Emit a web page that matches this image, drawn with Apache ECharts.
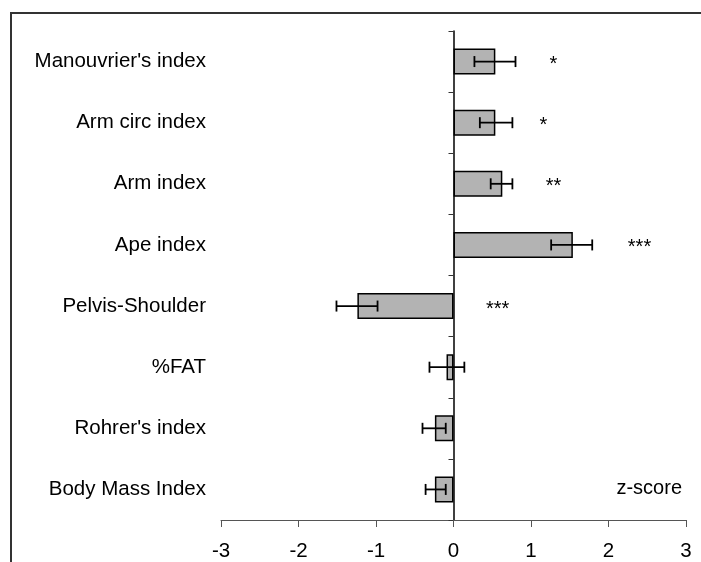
<!DOCTYPE html>
<html>
<head>
<meta charset="utf-8">
<script src="https://cdn.jsdelivr.net/npm/echarts@6/dist/echarts.min.js"></script>
<style>
html,body{margin:0;padding:0;background:#fff;}
#chart{width:701px;height:562px;}
</style>
</head>
<body>
<div id="chart"></div>
<script>
// Data (top to bottom)
const categories = ["Manouvrier's index", "Arm circ index", "Arm index", "Ape index",
  "Pelvis-Shoulder", "%FAT", "Rohrer's index", "Body Mass Index"];
const means   = [0.54, 0.54, 0.63, 1.54, -1.24, -0.09, -0.24, -0.24];
const errLow  = [0.27, 0.34, 0.48, 1.26, -1.51, -0.31, -0.40, -0.36];
const errHigh = [0.80, 0.76, 0.76, 1.79, -0.98, 0.14, -0.10, -0.10];
const starText = ["*", "*", "**", "***", "***", "", "", ""];
const starX    = [1.29, 1.16, 1.29, 2.40, 0.57, null, null, null];
const xTicks = [-3, -2, -1, 0, 1, 2, 3];

const FONT = "'Liberation Sans', Arial, sans-serif";

const errData = categories.map((c, i) => [i, errLow[i], errHigh[i]]);
const starData = categories.map((c, i) => [starX[i], i, starText[i]]).filter(d => d[0] !== null);

const chart = echarts.init(document.getElementById('chart'), null, {renderer: 'canvas'});
chart.setOption({
  animation: false,
  backgroundColor: '#fff',
  textStyle: {fontFamily: FONT},
  grid: {left: 221, right: 15, top: 31, bottom: 42, containLabel: false},
  xAxis: {
    type: 'value',
    min: xTicks[0], max: xTicks[xTicks.length - 1], interval: 1,
    position: 'bottom',
    axisLine: {show: true, onZero: false, lineStyle: {color: '#555', width: 1}},
    axisTick: {show: true, length: 7, lineStyle: {color: '#555', width: 1}},
    axisLabel: {fontSize: 20.5, color: '#000', margin: 21, fontFamily: FONT},
    splitLine: {show: false}
  },
  yAxis: [{
    type: 'category', data: categories, inverse: true, position: 'left',
    axisLine: {show: false, onZero: false},
    axisTick: {show: false},
    axisLabel: {fontSize: 20.5, color: '#000', margin: 15, fontFamily: FONT},
    splitLine: {show: false}
  }, {
    type: 'category', data: categories, inverse: true, position: 'left',
    axisLine: {show: true, onZero: true, lineStyle: {color: '#000', width: 1.5}},
    axisTick: {show: true, length: 5, lineStyle: {color: '#333', width: 1}},
    axisLabel: {show: false},
    splitLine: {show: false}
  }],
  series: [{
    type: 'bar',
    yAxisIndex: 0,
    data: means,
    barWidth: 26,
    itemStyle: {color: '#b3b3b3', borderColor: '#000', borderWidth: 1.5},
    z: 2
  }, {
    type: 'custom',
    yAxisIndex: 0,
    data: errData,
    encode: {y: 0, x: [1, 2]},
    z: 3,
    renderItem: function (params, api) {
      const cat = api.value(0);
      const p1 = api.coord([api.value(1), cat]);
      const p2 = api.coord([api.value(2), cat]);
      const h = 5.5;
      const st = {stroke: '#000', lineWidth: 1.8};
      return {
        type: 'group',
        children: [
          {type: 'line', shape: {x1: p1[0], y1: p1[1], x2: p2[0], y2: p2[1]}, style: st},
          {type: 'line', shape: {x1: p1[0], y1: p1[1] - h, x2: p1[0], y2: p1[1] + h}, style: st},
          {type: 'line', shape: {x1: p2[0], y1: p2[1] - h, x2: p2[0], y2: p2[1] + h}, style: st}
        ]
      };
    }
  }, {
    type: 'custom',
    yAxisIndex: 0,
    data: starData,
    encode: {x: 0, y: 1},
    z: 4,
    renderItem: function (params, api) {
      const p = api.coord([api.value(0), api.value(1)]);
      return {
        type: 'text',
        x: p[0], y: p[1] + 3,
        style: {
          text: starData[params.dataIndex][2],
          fontSize: 20, fontFamily: FONT, fill: '#000',
          align: 'center', verticalAlign: 'middle'
        }
      };
    }
  }],
  graphic: [{
    type: 'rect',
    shape: {x: 11, y: 13, width: 900, height: 900},
    style: {fill: 'none', stroke: '#333', lineWidth: 2},
    silent: true
  }, {
    type: 'text',
    x: 682, y: 488,
    style: {text: 'z-score', fontSize: 20, fontFamily: FONT, fill: '#000',
      align: 'right', verticalAlign: 'middle'}
  }]
});
</script>
</body>
</html>
